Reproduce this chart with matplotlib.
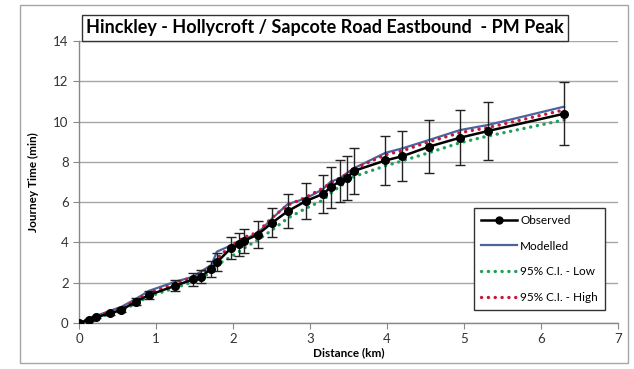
import matplotlib
matplotlib.use("Agg")
import matplotlib.pyplot as plt
from matplotlib.lines import Line2D

distance = [0.0, 0.13, 0.22, 0.40, 0.55, 0.74, 0.91, 1.25, 1.485, 1.58, 1.72, 1.79,
            1.98, 2.08, 2.14, 2.32, 2.51, 2.71, 2.95, 3.17, 3.27, 3.39, 3.48, 3.57,
            3.98, 4.20, 4.55, 4.95, 5.31, 6.30]
observed = [0.0, 0.15, 0.28, 0.48, 0.65, 1.06, 1.39, 1.85, 2.17, 2.30, 2.69, 3.01,
            3.74, 3.92, 4.07, 4.39, 4.98, 5.55, 6.06, 6.41, 6.74, 7.05, 7.20, 7.55,
            8.07, 8.28, 8.76, 9.20, 9.53, 10.39]
error = [0.0, 0.03, 0.05, 0.08, 0.10, 0.16, 0.21, 0.28, 0.32, 0.33, 0.40, 0.45,
         0.54, 0.57, 0.61, 0.65, 0.73, 0.83, 0.90, 0.96, 1.02, 1.05, 1.08, 1.13,
         1.21, 1.24, 1.31, 1.38, 1.42, 1.55]
modelled = [0.0, 0.20, 0.35, 0.60, 0.80, 1.20, 1.60, 2.05, 2.30, 2.55, 2.88, 3.54,
            3.86, 4.00, 4.15, 4.45, 5.20, 5.90, 6.19, 6.65, 7.02, 7.18, 7.45, 7.68,
            8.45, 8.67, 9.09, 9.58, 9.83, 10.74]
ci_low = [0.0, 0.12, 0.25, 0.44, 0.60, 0.98, 1.32, 1.75, 2.05, 2.20, 2.55, 2.88,
          3.30, 3.55, 3.71, 4.12, 4.62, 5.20, 5.70, 6.10, 6.45, 6.80, 6.97, 7.27,
          7.80, 8.05, 8.46, 8.95, 9.28, 10.08]
ci_high = [0.0, 0.18, 0.32, 0.55, 0.75, 1.12, 1.50, 1.95, 2.30, 2.45, 2.85, 3.20,
           3.85, 4.10, 4.25, 4.50, 5.25, 5.85, 6.25, 6.70, 6.95, 7.20, 7.40, 7.65,
           8.35, 8.55, 9.00, 9.45, 9.70, 10.58]

title = "Hinckley - Hollycroft / Sapcote Road Eastbound  - PM Peak"
x_ticks = [0, 1, 2, 3, 4, 5, 6, 7]
y_ticks = [0, 2, 4, 6, 8, 10, 12, 14]

plt.rcParams['font.family'] = ['Lato', 'DejaVu Sans']

W, H = 634, 369
fig = plt.figure(figsize=(W / 100, H / 100), dpi=100)
# plot area: x 79..618, y 41..323 (pixels from top)
ax = fig.add_axes([79 / W, 1 - 323 / H, (618 - 79) / W, (323 - 41) / H])

# outer chart border
fig.patches.append(plt.Rectangle((20 / W, 6 / H), (628 - 20) / W, (362 - 4) / H,
                                 transform=fig.transFigure, fill=False,
                                 edgecolor='#a6a6a6', linewidth=1.0))

green = '#1f9e5c'
red = '#c4183c'
blue = '#4a64a0'
dots = (0, (0.05, 2.0))

ax.plot(distance, ci_low, linestyle=dots, color=green, linewidth=2.4,
        dash_capstyle='round', zorder=3)
ax.plot(distance, modelled, color=blue, linewidth=1.6, zorder=4)
ax.plot(distance, ci_high, linestyle=dots, color=red, linewidth=2.4,
        dash_capstyle='round', zorder=5)
ax.errorbar(distance, observed, yerr=error, color='black', linewidth=1.8,
            marker='o', markersize=5.5, ecolor='#222222', elinewidth=1.0,
            capsize=3.5, capthick=1.0, zorder=6)

ax.set_xlim(0, 7)
ax.set_ylim(0, 14)
ax.set_xticks(x_ticks)
ax.set_yticks(y_ticks)
ax.tick_params(axis='both', labelsize=9.5, colors='#333333', length=4,
               width=0.8, direction='out')
ax.tick_params(axis='both', color='#888888')
ax.grid(axis='y', color='#a6a6a6', linewidth=1.0)
ax.set_axisbelow(True)
for s in ['top', 'right']:
    ax.spines[s].set_visible(False)
for s in ['left', 'bottom']:
    ax.spines[s].set_color('#888888')
    ax.spines[s].set_linewidth(1.0)

ax.set_xlabel('Distance (km)', fontsize=8.5, fontweight='bold', labelpad=1)
ax.set_ylabel('Journey Time (min)', fontsize=8.5, fontweight='bold', labelpad=10)

fig.text(325 / W, 1 - 28 / H, title, ha='center', va='center', fontsize=13,
         fontweight='bold',
         bbox=dict(boxstyle='square,pad=0.25', facecolor='white',
                   edgecolor='#333333', linewidth=1.0))

handles = [
    Line2D([], [], color='black', linewidth=1.8, marker='o', markersize=5),
    Line2D([], [], color=blue, linewidth=1.6),
    Line2D([], [], color=green, linewidth=2.4, linestyle=dots,
           dash_capstyle='round'),
    Line2D([], [], color=red, linewidth=2.4, linestyle=dots,
           dash_capstyle='round'),
]
labels = ['Observed', 'Modelled', '95% C.I. - Low', '95% C.I. - High']
leg = ax.legend(handles, labels, loc='lower right',
                bbox_to_anchor=((611 - 79) / (618 - 79), (323 - 316) / (323 - 41)),
                fontsize=8.5, frameon=True, fancybox=False, framealpha=1,
                edgecolor='#333333', handlelength=3, labelspacing=1.25,
                borderpad=0.6, handletextpad=0.3)
leg.get_frame().set_linewidth(1.0)

fig.savefig('out.png', dpi=100)
